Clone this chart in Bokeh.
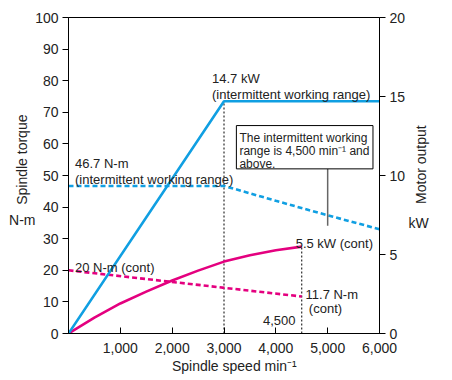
import math
from bokeh.plotting import figure
from bokeh.models import (Range1d, LinearAxis, FixedTicker, NumeralTickFormatter,
                          Label)
from bokeh.embed import file_html
from bokeh.resources import INLINE

# ---------------- data ----------------
# Motor output, intermittent working range (kW)
speed_int_power = [0, 3000, 6000]
power_int_kw = [0, 14.7, 14.7]

# Spindle torque, intermittent working range (N-m)
speed_int_torque = [0, 3000, 4000, 5000, 6000]
torque_int_nm = [46.7, 46.7, 42.0, 37.4, 33.0]

# Motor output, continuous (kW)
speed_cont_power = [0, 500, 1000, 1500, 2000, 2500, 3000, 3500, 4000, 4500]
power_cont_kw = [0, 1.0, 1.9, 2.65, 3.35, 3.98, 4.55, 4.95, 5.27, 5.5]

# Spindle torque, continuous (N-m)
speed_cont_torque = [0, 4500]
torque_cont_nm = [20, 11.7]

x_ticks = [1000, 2000, 3000, 4000, 5000, 6000]
y_ticks_left = list(range(0, 101, 10))
y_ticks_right = [0, 5, 10, 15, 20]

BLUE = "#109fe2"
MAGENTA = "#e4007f"
FONT = "Liberation Sans"
TXT = "#222222"

p = figure(width=446, height=378, output_backend="svg", toolbar_location=None,
           x_range=Range1d(0, 6000), y_range=Range1d(0, 100),
           min_border_left=68, min_border_right=67, min_border_top=17,
           min_border_bottom=45)
p.extra_y_ranges = {"kw": Range1d(0, 20)}
p.grid.visible = False
p.outline_line_color = "black"
p.outline_line_width = 1
p.background_fill_color = "white"
p.border_fill_color = "white"


def style_axis(ax, tick_in, tick_out, standoff):
    ax.major_tick_in = tick_in
    ax.major_tick_out = tick_out
    ax.minor_tick_line_color = None
    ax.major_label_standoff = standoff
    ax.axis_line_color = "black"
    ax.major_tick_line_color = "black"
    ax.major_label_text_font = FONT
    ax.major_label_text_font_size = "14px"
    ax.major_label_text_color = TXT


def title_axis(ax, standoff, orientation="horizontal"):
    ax.axis_line_color = None
    ax.major_tick_line_color = None
    ax.minor_tick_line_color = None
    ax.major_tick_in = 0
    ax.major_tick_out = 0
    ax.major_label_standoff = standoff
    ax.major_label_orientation = orientation
    ax.major_label_text_font = FONT
    ax.major_label_text_font_size = "14px"
    ax.major_label_text_color = TXT


# x axis
xa = p.xaxis[0]
xa.ticker = FixedTicker(ticks=x_ticks)
xa.formatter = NumeralTickFormatter(format="0,0")
style_axis(xa, 6, 0, 9)

# left y axis
ya = p.yaxis[0]
ya.ticker = FixedTicker(ticks=y_ticks_left)
style_axis(ya, 0, 6, 4)

# right y axis
ra = LinearAxis(y_range_name="kw", ticker=FixedTicker(ticks=y_ticks_right))
style_axis(ra, 0, 6, 4)
p.add_layout(ra, "right")

# axis titles (placed as labels of extra, line-less axes)
xt = LinearAxis(ticker=FixedTicker(ticks=[3200]),
                major_label_overrides={3200: "Spindle speed min\u207b\u00b9"})
title_axis(xt, 2)
p.add_layout(xt, "below")

lt = LinearAxis(ticker=FixedTicker(ticks=[55]),
                major_label_overrides={55: "Spindle torque"})
title_axis(lt, 2, "vertical")
p.add_layout(lt, "left")

lu = LinearAxis(ticker=FixedTicker(ticks=[36]),
                major_label_overrides={36: "N-m"})
title_axis(lu, -24)
p.add_layout(lu, "left")

rt = LinearAxis(ticker=FixedTicker(ticks=[41]),
                major_label_overrides={41: "Motor output"})
title_axis(rt, 13, math.pi / 2)
p.add_layout(rt, "right")

ru = LinearAxis(ticker=FixedTicker(ticks=[35]),
                major_label_overrides={35: "kW"})
title_axis(ru, -32)
p.add_layout(ru, "right")

# reference dotted verticals (from the power curves' corner points)
p.segment(x0=[speed_int_power[1], speed_cont_power[-1]], y0=[0, 0],
          x1=[speed_int_power[1], speed_cont_power[-1]],
          y1=[power_int_kw[1], power_cont_kw[-1]], y_range_name="kw",
          line_color="black", line_width=1, line_dash="2 2")

# series
p.line(speed_int_torque, torque_int_nm, line_color=BLUE, line_width=2.6, line_dash="5 3")
p.line(speed_cont_torque, torque_cont_nm, line_color=MAGENTA, line_width=2.6, line_dash="5 3")
p.line(speed_cont_power, power_cont_kw, y_range_name="kw", line_color=MAGENTA, line_width=2.6)
p.line(speed_int_power, power_int_kw, y_range_name="kw", line_color=BLUE, line_width=2.6)

# callout box + connector
p.segment(x0=[5000], y0=[34.1], x1=[5000], y1=[52.1], line_color="#666666", line_width=1.5)
p.quad(left=[3239], right=[5874], bottom=[52.1], top=[65.8], fill_color="white",
       line_color="black", line_width=1)


def lab(x, y, t, size="13px", align="left"):
    p.add_layout(Label(x=x, y=y, text=t, text_font=FONT, text_font_size=size,
                       text_align=align, text_baseline="alphabetic",
                       text_color=TXT))


lab(2769, 80.6, "14.7 kW")
lab(2769, 75.6, "(intermittent working range)")
lab(126, 53.7, "46.7 N-m")
lab(126, 48.6, "(intermittent working range)")
lab(126, 20.9, "20 N-m (cont)")
lab(5874, 28.6, "5.5 kW (cont)", align="right")
lab(4573, 12.3, "11.7 N-m")
lab(4637, 8.0, "(cont)")
lab(4380, 4.0, "4,500", align="right")
lab(3297, 61.9, "The intermittent working", size="12px")
lab(3297, 57.7, "range is 4,500 min\u207b\u00b9 and", size="12px")
lab(3297, 53.7, "above.", size="12px")

open("out.html", "w").write(file_html(p, INLINE))
